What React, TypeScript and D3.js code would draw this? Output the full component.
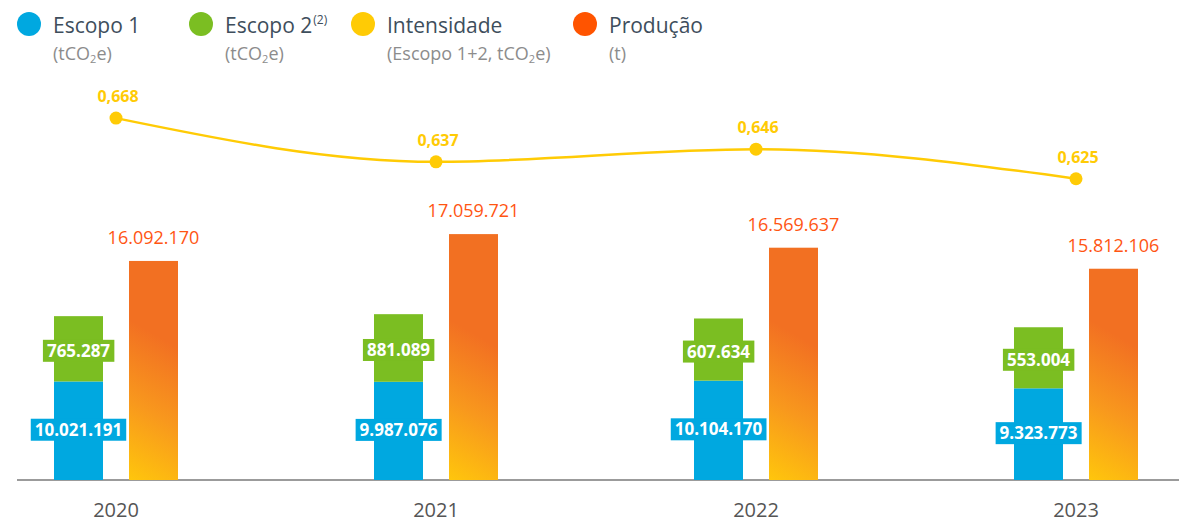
import React from "react";
import * as d3 from "d3";

// data
const years = ["2020", "2021", "2022", "2023"];
const escopo1 = [10021191, 9987076, 10104170, 9323773];
const escopo2 = [765287, 881089, 607634, 553004];
const intensidade = [0.668, 0.637, 0.646, 0.625];
const producao = [16092170, 17059721, 16569637, 15812106];

const legendItems = [
  { name: "Escopo 1", sup: "", sub: ["(tCO", "2", "e)"], color: "#00A8E0", x: 29 },
  { name: "Escopo 2", sup: "(2)", sub: ["(tCO", "2", "e)"], color: "#7BBE22", x: 201 },
  { name: "Intensidade", sup: "", sub: ["(Escopo 1+2, tCO", "2", "e)"], color: "#FFCB05", x: 363 },
  { name: "Produção", sup: "", sub: ["(t)", "", ""], color: "#FF5400", x: 585 },
];

const W = 1179;
const H = 522;
const FONT = "'Open Sans', 'DejaVu Sans', sans-serif";

export default function App() {
  const svgRef = React.useRef(null);

  React.useEffect(() => {
    const svg = d3.select(svgRef.current);
    svg.selectAll("*").remove();

    const pt = d3.formatLocale({ decimal: ",", thousands: ".", grouping: [3], currency: ["", ""] });
    const fmtInt = pt.format(",");
    const fmtDec = pt.format(",.3f");

    const baseY = 480;

    /* scales */
    var x = d3.scaleBand().domain(years).range([54, 1138]).paddingInner(0.6125);
    var xInner = d3.scaleBand().domain(["emis", "prod"]).range([0, x.bandwidth()]).paddingInner(0.3467);
    var yBlue = d3.scaleLinear().domain([0, 12e6]).range([baseY, baseY - 118]);
    // scope 2 segment is illustrative in the source, keep a minimum visible height
    var hGreen = d3.scaleLinear().domain([0, 1e6]).range([50, 70]);
    var yProd = d3.scaleLinear().domain([8.2e6, 18e6]).range([baseY, baseY - 272]);
    var yInt = d3.scaleLinear().domain([0.6, 0.7]).range([214, 73]);

    const center = (i) => x(years[i]) + x.bandwidth() / 2;
    const prodX = (i) => x(years[i]) + xInner("prod");

    /* diagonal gradient per production bar, yellow at bottom-left */
    const defs = svg.append("defs");
    producao.forEach((d, i) => {
      const gx = prodX(i);
      const grad = defs
        .append("linearGradient")
        .attr("id", "prodGrad" + i)
        .attr("gradientUnits", "userSpaceOnUse")
        .attr("x1", gx)
        .attr("y1", baseY)
        .attr("x2", gx + 70)
        .attr("y2", baseY - 120);
      grad.append("stop").attr("offset", "0%").attr("stop-color", "#FFC60C");
      grad.append("stop").attr("offset", "50%").attr("stop-color", "#F8981D");
      grad.append("stop").attr("offset", "100%").attr("stop-color", "#F27022");
    });

    /* legend */
    const legend = svg.append("g").attr("font-family", FONT);
    legendItems.forEach((d) => {
      const g = legend.append("g").attr("transform", `translate(${d.x},0)`);
      g.append("circle").attr("cx", 0).attr("cy", 24).attr("r", 12).attr("fill", d.color);
      const t = g
        .append("text")
        .attr("x", 24)
        .attr("y", 33)
        .attr("font-size", 21)
        .attr("fill", "#3E4E5C")
        .text(d.name);
      if (d.sup) {
        t.append("tspan").attr("font-size", 12).attr("dy", -9).attr("dx", 1).text(d.sup);
      }
      const s = g
        .append("text")
        .attr("x", 24)
        .attr("y", 60)
        .attr("font-size", 18)
        .attr("fill", "#8C8C8C");
      s.append("tspan").text(d.sub[0]);
      if (d.sub[1]) {
        s.append("tspan").attr("font-size", 11).attr("dy", 3).text(d.sub[1]);
        s.append("tspan").attr("dy", -3).text(d.sub[2]);
      }
    });

    /* axis line */
    svg
      .append("line")
      .attr("x1", 17)
      .attr("x2", W)
      .attr("y1", baseY)
      .attr("y2", baseY)
      .attr("stroke", "#7A7A7A")
      .attr("stroke-width", 1.5);

    /* year labels */
    svg
      .append("g")
      .selectAll("text")
      .data(years)
      .enter()
      .append("text")
      .attr("x", (d, i) => center(i))
      .attr("y", 517)
      .attr("text-anchor", "middle")
      .attr("font-family", FONT)
      .attr("font-size", 20)
      .attr("fill", "#555")
      .text((d) => d);

    const bars = svg.append("g");

    /* escopo 1 */
    bars
      .selectAll(".blue")
      .data(escopo1)
      .enter()
      .append("rect")
      .attr("class", "blue")
      .attr("x", (d, i) => x(years[i]) + xInner("emis"))
      .attr("y", (d) => yBlue(d))
      .attr("width", xInner.bandwidth())
      .attr("height", (d) => baseY - yBlue(d))
      .attr("fill", "#00A8E0");

    /* escopo 2 stacked on top */
    bars
      .selectAll(".green")
      .data(escopo2)
      .enter()
      .append("rect")
      .attr("class", "green")
      .attr("x", (d, i) => x(years[i]) + xInner("emis"))
      .attr("y", (d, i) => yBlue(escopo1[i]) - hGreen(d))
      .attr("width", xInner.bandwidth())
      .attr("height", (d) => hGreen(d))
      .attr("fill", "#7BBE22");

    /* producao */
    bars
      .selectAll(".prod")
      .data(producao)
      .enter()
      .append("rect")
      .attr("class", "prod")
      .attr("x", (d, i) => prodX(i))
      .attr("y", (d) => yProd(d))
      .attr("width", xInner.bandwidth())
      .attr("height", (d) => baseY - yProd(d))
      .attr("fill", (d, i) => `url(#prodGrad${i})`);

    /* boxed labels on the emission segments */
    const boxLabel = (txt, cx, cy, color) => {
      const g = svg.append("g");
      const rect = g.append("rect").attr("fill", color);
      const t = g
        .append("text")
        .attr("x", cx)
        .attr("y", cy + 6)
        .attr("text-anchor", "middle")
        .attr("font-family", FONT)
        .attr("font-weight", 700)
        .attr("font-size", 17)
        .attr("fill", "#fff")
        .text(txt);
      const bb = t.node().getBBox();
      rect
        .attr("x", bb.x - 4)
        .attr("y", cy - 11)
        .attr("width", bb.width + 8)
        .attr("height", 22);
    };

    escopo1.forEach((d, i) => {
      const cx = x(years[i]) + xInner("emis") + xInner.bandwidth() / 2;
      const top = yBlue(d);
      boxLabel(fmtInt(d), cx, (top + baseY) / 2 - 1, "#00A8E0");
    });
    escopo2.forEach((d, i) => {
      const cx = x(years[i]) + xInner("emis") + xInner.bandwidth() / 2;
      const bottom = yBlue(escopo1[i]);
      boxLabel(fmtInt(d), cx, bottom - hGreen(d) / 2 + 2, "#7BBE22");
    });

    /* producao labels */
    svg
      .append("g")
      .selectAll("text")
      .data(producao)
      .enter()
      .append("text")
      .attr("x", (d, i) => prodX(i) + xInner.bandwidth() / 2)
      .attr("y", (d) => yProd(d) - 17)
      .attr("text-anchor", "middle")
      .attr("font-family", FONT)
      .attr("font-weight", 500)
      .attr("font-size", 18)
      .attr("fill", "#FF5512")
      .text((d) => fmtInt(d));

    /* intensidade line */
    var line = d3
      .line()
      .x((d, i) => center(i))
      .y((d) => yInt(d))
      .curve(d3.curveMonotoneX);

    svg
      .append("path")
      .attr("d", line(intensidade))
      .attr("fill", "none")
      .attr("stroke", "#FFCB05")
      .attr("stroke-width", 2.5);

    svg
      .append("g")
      .selectAll("circle")
      .data(intensidade)
      .enter()
      .append("circle")
      .attr("cx", (d, i) => center(i))
      .attr("cy", (d) => yInt(d))
      .attr("r", 6.5)
      .attr("fill", "#FFCB05");

    svg
      .append("g")
      .selectAll("text")
      .data(intensidade)
      .enter()
      .append("text")
      .attr("x", (d, i) => center(i) + 2)
      .attr("y", (d) => yInt(d) - 16)
      .attr("text-anchor", "middle")
      .attr("font-family", FONT)
      .attr("font-weight", 700)
      .attr("font-size", 16)
      .attr("fill", "#FFCB05")
      .text((d) => fmtDec(d));
  }, []);

  return (
    <svg
      ref={svgRef}
      width={W}
      height={H}
      style={{ position: "absolute", left: 0, top: 0, background: "#fff" }}
    />
  );
}
